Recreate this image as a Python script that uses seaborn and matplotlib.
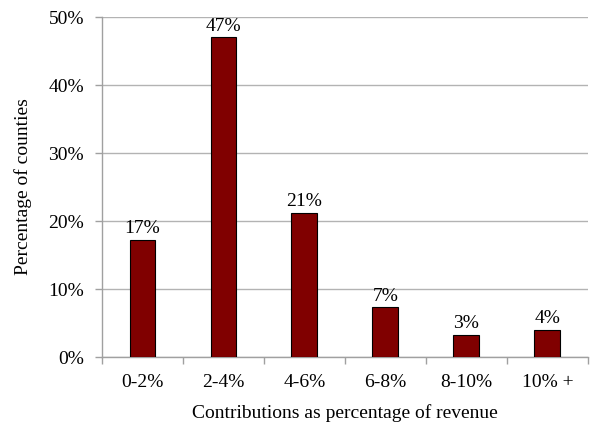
import matplotlib
matplotlib.use('Agg')
import matplotlib.pyplot as plt
import numpy as np
import pandas as pd
import seaborn as sns
from matplotlib.ticker import FuncFormatter, FixedLocator

# Data
categories = ['0-2%', '2-4%', '4-6%', '6-8%', '8-10%', '10% +']
values = [17.2, 47.0, 21.2, 7.3, 3.3, 4.0]
y_ticks = [0, 10, 20, 30, 40, 50]

df = pd.DataFrame({'range': categories, 'pct': values})

sns.set_theme(style='white')
plt.rcParams['font.family'] = ['Liberation Serif', 'DejaVu Serif']
plt.rcParams['text.color'] = 'black'
plt.rcParams['axes.labelcolor'] = 'black'
plt.rcParams['xtick.labelcolor'] = 'black'
plt.rcParams['ytick.labelcolor'] = 'black'

fig = plt.figure(figsize=(5.98, 4.33), dpi=100)
ax = fig.add_axes([0.1706, 0.1755, 0.8124, 0.7852])

sns.barplot(data=df, x='range', y='pct', color='#800000', saturation=1,
            width=0.32, edgecolor='black', linewidth=0.8, ax=ax, zorder=3)

# Value labels above the bars
for i, v in enumerate(values):
    ax.text(i, v + 0.4, f'{round(v)}%', ha='center', va='bottom', fontsize=14, color='black')

ax.set_ylim(0, 50)
ax.set_xlim(-0.5, len(categories) - 0.5)
ax.set_yticks(y_ticks)
ax.yaxis.set_major_formatter(FuncFormatter(lambda v, p: f'{int(v)}%'))
ax.grid(axis='y', color='#b3b3b3', linewidth=1, zorder=0)
ax.set_axisbelow(True)

# x tick marks sit between the categories
ax.xaxis.set_minor_locator(FixedLocator(np.arange(-0.5, len(categories), 1.0)))
ax.tick_params(axis='x', which='major', length=0, pad=12, labelsize=14)
ax.tick_params(axis='x', which='minor', length=5, color='#a0a0a0', width=1, bottom=True)
ax.tick_params(axis='y', which='major', length=5, color='#a0a0a0', width=1, left=True, labelsize=14, pad=8)

for side in ['top', 'right']:
    ax.spines[side].set_visible(False)
for side in ['left', 'bottom']:
    ax.spines[side].set_color('#a0a0a0')
    ax.spines[side].set_linewidth(1)

ax.set_xlabel('Contributions as percentage of revenue', fontsize=14, labelpad=10)
ax.set_ylabel('Percentage of counties', fontsize=14, labelpad=12)

plt.savefig('out.png', dpi=100)
plt.close()
